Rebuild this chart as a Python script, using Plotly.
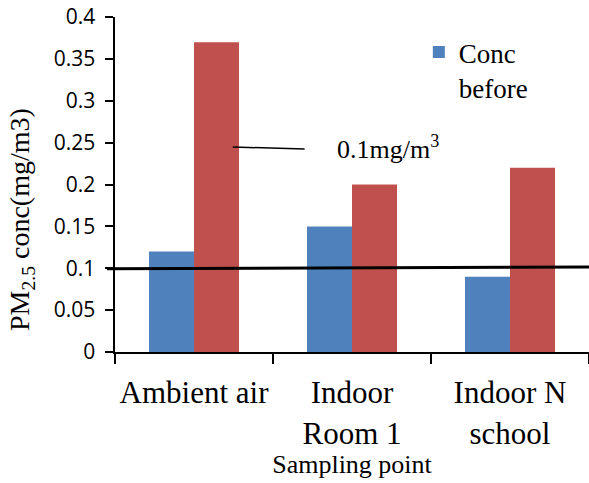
import plotly.graph_objects as go

categories = ["Ambient air", "Indoor<br>Room 1", "Indoor N<br>school"]
conc_before = [0.12, 0.15, 0.09]
conc_after = [0.37, 0.20, 0.22]
threshold_left = 0.0995
threshold_right = 0.1015
y_max = 0.4
y_step = 0.05

serif = "Liberation Serif"
sans = "Open Sans"

L, T, R, B = 115, 17, 0, 131
PW, PH = 589 - L - R, 483 - T - B

fig = go.Figure()
fig.add_trace(go.Bar(x=categories, y=conc_before, name="Conc<br>before",
                     marker=dict(color="#4F81BD", line=dict(width=0))))
fig.add_trace(go.Bar(x=categories, y=conc_after, name="Conc after",
                     marker=dict(color="#C0504D", line=dict(width=0)), showlegend=False))

fig.add_shape(type="line", xref="paper", yref="y", x0=-0.017, x1=1.0,
              y0=threshold_left, y1=threshold_right, line=dict(color="black", width=3))
fig.add_shape(type="line", xref="x", yref="y", x0=0.245, y0=0.2448, x1=0.70, y1=0.2424,
              line=dict(color="black", width=1.5))
fig.add_annotation(x=0.89, y=0.2436, xref="x", yref="y", text="0.1mg/m<sup>3</sup>",
                   showarrow=False, xanchor="left", yanchor="middle",
                   font=dict(family=serif, size=26, color="black"))
fig.add_annotation(x=(22 - L) / PW, y=(352 - 220) / PH, xref="paper", yref="paper",
                   text="PM<sub>2.5</sub> conc(mg/m3)",
                   showarrow=False, textangle=-90, xanchor="center", yanchor="middle",
                   font=dict(family=serif, size=28, color="black"))

fig.update_layout(
    width=589, height=483,
    margin=dict(l=L, r=R, t=T, b=B),
    paper_bgcolor="white", plot_bgcolor="white",
    barmode="group", bargap=0.43, bargroupgap=0,
    legend=dict(x=0.641, y=0.967, xanchor="left", yanchor="top",
                font=dict(family=serif, size=27, color="black"),
                bgcolor="rgba(0,0,0,0)", valign="top", itemwidth=30),
    xaxis=dict(
        type="category", tickson="boundaries", ticks="outside", ticklen=10, tickwidth=2,
        tickcolor="black", showline=True, linecolor="black", linewidth=2, tickangle=0,
        tickfont=dict(family=serif, size=31, color="black"), ticklabelstandoff=12,
        title=dict(text="Sampling point", font=dict(family=serif, size=26, color="black"), standoff=4),
        range=[-0.5, 2.5], showgrid=False, zeroline=False, automargin=False,
    ),
    yaxis=dict(
        range=[0, y_max], tick0=0, dtick=y_step, ticks="outside", ticksuffix="\u00a0",
        ticklen=8, tickwidth=2, tickcolor="black", showline=True, linecolor="black",
        linewidth=2, showgrid=False, zeroline=False, automargin=False,
        tickfont=dict(family=sans, size=21, color="black"),
    ),
)

fig.write_html("out.html", config={"displayModeBar": False},
               post_script="document.body.style.margin='0px';")
